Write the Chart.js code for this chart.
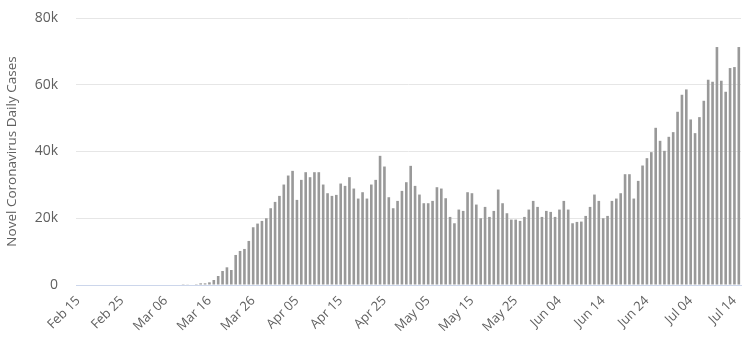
<!DOCTYPE html>
<html>
<head>
<meta charset="utf-8">
<title>Novel Coronavirus Daily Cases</title>
<script src="https://cdn.jsdelivr.net/npm/chart.js@4/dist/chart.umd.min.js"></script>
<style>
  html, body { margin: 0; padding: 0; background: #fff; }
  #daily-cases-chart { display: block; }
</style>
</head>
<body>
<canvas id="daily-cases-chart" width="749" height="364"></canvas>
<script>
'use strict';

// Jours affichés : du 15 février au 15 juillet
const startMonth = 1;   // février
const startDay = 15;
const dayCount = 152;
const monthNames = ['Jan', 'Feb', 'Mar', 'Apr', 'May', 'Jun', 'Jul', 'Aug'];
const monthLengths = [31, 29, 31, 30, 31, 30, 31, 31];

// Nouveaux cas par jour
const casesFebMar = [
  0, 0, 0, 0, 0, 0, 0, 0, 0, 0, 0, 0, 0, 0, 0,
  0, 0, 0, 0, 0, 0, 0, 0, 0, 60, 100, 150, 250
];
const casesMarApr = [
  500, 500, 800, 1500, 2700, 4200, 5300, 4500, 9000, 10200, 10800, 13200,
  17300, 18400, 19200, 20000, 23000, 24900, 26700, 30100, 32800, 34200,
  25500, 31500, 33800, 32300, 33800, 33800, 30100, 27500, 26700, 27000,
  30400, 29700, 32300, 28900, 25900, 27800, 25900, 30100, 31500, 38700,
  35500, 26300
];
const casesAprJun = [
  23000, 25200, 28200, 30800, 35700, 29700, 27100, 24500, 24500, 25200,
  29300, 28900, 26000, 20400, 18500, 22600, 22200, 27800, 27500, 24100,
  20000, 23400, 20400, 22200, 28600, 24500, 21500, 19600, 19600, 19200,
  20400, 22600, 25200, 23400, 20400, 22200, 21900, 20400, 22600, 25200,
  22600, 18500, 18900
];
const casesJunJul = [
  19000, 20700, 23400, 27100, 25200, 20000, 20700, 25200, 25900, 27500,
  33200, 33200, 25900, 31200, 35800, 38000, 39800, 47100, 43200, 40200,
  44400, 45800, 51900, 57000, 58600, 49600, 45500, 50300, 55200, 61500,
  60900, 71300, 61200, 57900, 65000, 65300, 71300
];

const yTicks = [0, 20000, 40000, 60000, 80000];
const labelEvery = 10;

// Construction des libellés de dates ("Feb 15", "Mar 06", ...)
const categories = [];
let m = startMonth, d = startDay;
for (let i = 0; i < dayCount; i++) {
  categories.push(monthNames[m] + ' ' + String(d).padStart(2, '0'));
  d++;
  if (d > monthLengths[m]) { d = 1; m++; }
}

const dailyCases = casesFebMar.concat(casesMarApr, casesAprJun, casesJunJul);

const textColor = '#606060';
const fontFamily = '"Open Sans", "Noto Sans", sans-serif';

const ctx = document.getElementById('daily-cases-chart');

new Chart(ctx, {
  type: 'bar',
  data: {
    labels: categories,
    datasets: [{
      label: 'Daily Cases',
      data: dailyCases,
      backgroundColor: '#999999',
      borderWidth: 0,
      barPercentage: 0.6,
      categoryPercentage: 1.0
    }]
  },
  options: {
    responsive: false,
    animation: false,
    layout: {
      padding: { left: 0, right: 0, top: 18, bottom: 0 }
    },
    plugins: {
      legend: { display: false },
      tooltip: { enabled: false }
    },
    scales: {
      x: {
        grid: { display: false, drawTicks: false },
        border: { display: true, color: '#ccd6eb', width: 1 },
        ticks: {
          autoSkip: false,
          minRotation: 45,
          maxRotation: 45,
          padding: 8,
          color: textColor,
          font: { family: fontFamily, size: 13 },
          callback: function (value, index) {
            return index % labelEvery === 0 ? categories[index] : '';
          }
        },
        afterFit: function (scale) {
          scale.height = 79;
          scale.paddingRight = 8;
        }
      },
      y: {
        min: 0,
        max: 80000,
        afterBuildTicks: function (scale) {
          scale.ticks = yTicks.map(v => ({ value: v }));
        },
        grid: { color: '#e6e6e6', drawTicks: false },
        border: { display: false },
        ticks: {
          padding: 18,
          color: textColor,
          font: { family: fontFamily, size: 14 },
          callback: function (value) {
            return value === 0 ? '0' : (value / 1000) + 'k';
          }
        },
        title: {
          display: true,
          text: 'Novel Coronavirus Daily Cases',
          color: textColor,
          font: { family: fontFamily, size: 13.5 },
          padding: { top: 4, bottom: 0 }
        },
        afterFit: function (scale) {
          scale.width = 76;
          scale.paddingTop = 0;
          scale.paddingBottom = 0;
        }
      }
    }
  }
});
</script>
</body>
</html>
